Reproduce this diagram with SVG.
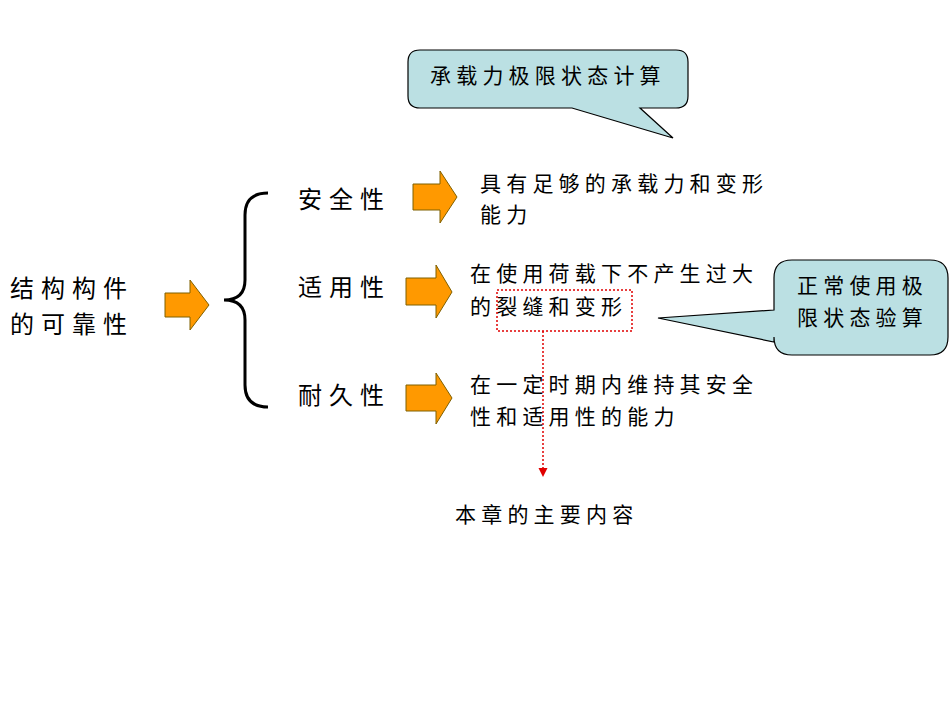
<svg xmlns="http://www.w3.org/2000/svg" width="950" height="713" viewBox="0 0 950 713">
<defs>
<style>
text{font-family:"Noto Sans CJK SC","Liberation Serif",serif;fill:#000}
.t{font-size:24px;letter-spacing:7px}
.s{font-size:21px;letter-spacing:5.2px}
.arr{fill:#FF9900;stroke:#7F6000;stroke-width:1}
.call{fill:#BBE0E3;stroke:#000;stroke-width:1.2}
</style>
<marker id="ah" markerWidth="8" markerHeight="8" refX="4" refY="4" orient="auto"><path d="M0,1 L6,4 L0,7Z" fill="#E00000"/></marker>
</defs>
<rect width="950" height="713" fill="#fff"/>
<g id="n-main"><text class="t" x="10" y="297">结构构件</text><text class="t" x="10" y="333">的可靠性</text></g>
<g id="a-main"><path class="arr" d="M165,293 H190 V280 L209,305 L190,330 V317 H165Z"/></g>
<g id="brace"><path d="M268,193 Q245,193 245,215 V280 Q245,300 224,300 Q245,300 245,320 V385 Q245,407 268,407" fill="none" stroke="#000" stroke-width="3"/></g>
<g id="n-safe"><text class="t" x="298" y="208">安全性</text><path class="arr" d="M413,184 H440 V171 L457,197 L440,223 V210 H413Z"/><text class="s" x="480" y="191">具有足够的承载力和变形</text><text class="s" x="480" y="222">能力</text></g>
<g id="n-use"><text class="t" x="298" y="296">适用性</text><path class="arr" d="M406,278 H436 V265 L452,292 L436,318 V305 H406Z"/><text class="s" x="470" y="281">在使用荷载下不产生过大</text><text class="s" x="470" y="314">的裂缝和变形</text></g>
<g id="n-dur"><text class="t" x="298" y="404">耐久性</text><path class="arr" d="M406,385 H436 V373 L452,398 L436,424 V411 H406Z"/><text class="s" x="470" y="392">在一定时期内维持其安全</text><text class="s" x="470" y="424">性和适用性的能力</text></g>
<g id="n-c1"><path class="call" d="M420,50 H676 Q688,50 688,62 V96 Q688,108 676,108 H640 L673,138 L572,108 H420 Q408,108 408,96 V62 Q408,50 420,50Z"/><text class="s" x="430" y="83">承载力极限状态计算</text></g>
<g id="n-c2"><path class="call" d="M792,260 H930 Q948,260 948,278 V337 Q948,355 930,355 H792 Q774,355 774,337 V342 L658,318 L774,310 V278 Q774,260 792,260Z"/><text class="s" x="797" y="293">正常使用极</text><text class="s" x="797" y="325">限状态验算</text></g>
<g id="n-main2"><text class="s" x="455" y="522">本章的主要内容</text></g>
<g id="connectors"><rect x="497" y="290" width="135" height="41" fill="none" stroke="#E00000" stroke-width="1.5" stroke-dasharray="2,2"/><line x1="543" y1="331" x2="543" y2="474" stroke="#E00000" stroke-width="1.5" stroke-dasharray="2,2" marker-end="url(#ah)"/></g>
</svg>
